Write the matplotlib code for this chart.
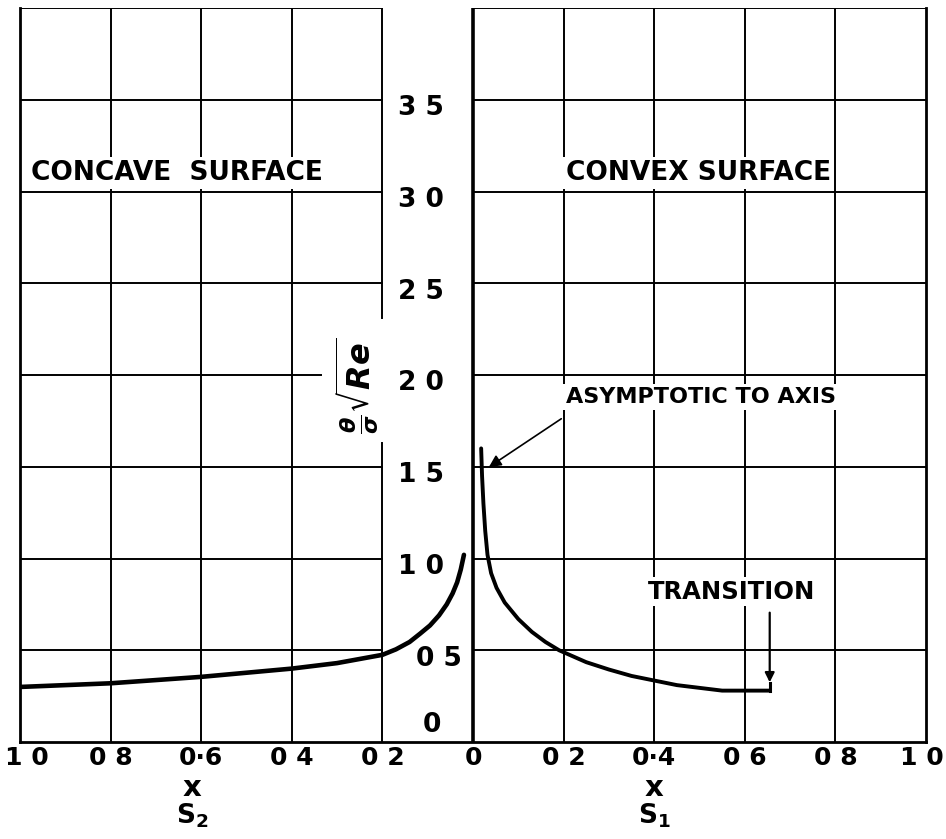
import numpy as np
import matplotlib
matplotlib.use('Agg')
import matplotlib.pyplot as plt
import matplotlib.transforms as mtransforms

# data
convex_x = [0.018, 0.020, 0.023, 0.027, 0.032, 0.040, 0.052, 0.070, 0.10, 0.13, 0.16, 0.19,
            0.25, 0.30, 0.35, 0.40, 0.45, 0.50, 0.55, 0.655]
convex_y = [1.60, 1.45, 1.30, 1.15, 1.02, 0.92, 0.84, 0.76, 0.67, 0.60, 0.545, 0.50,
            0.435, 0.395, 0.36, 0.335, 0.31, 0.295, 0.28, 0.28]
concave_x = [-1.0, -0.8, -0.6, -0.4, -0.3, -0.2, -0.17, -0.14, -0.117, -0.095, -0.075,
             -0.058, -0.045, -0.035, -0.027, -0.02]
concave_y = [0.30, 0.32, 0.355, 0.40, 0.43, 0.475, 0.505, 0.545, 0.59, 0.635, 0.69,
             0.75, 0.81, 0.87, 0.94, 1.02]

xticks = [-1.0, -0.8, -0.6, -0.4, -0.2, 0.0, 0.2, 0.4, 0.6, 0.8, 1.0]
xlabels = ['1 0', '0 8', '0·6', '0 4', '0 2', '0', '0 2', '0·4', '0 6', '0 8', '1 0']
yvals = [3.5, 3.0, 2.5, 2.0, 1.5, 1.0, 0.5, 0.0]
ylabels = ['3 5', '3 0', '2 5', '2 0', '1 5', '1 0', '0 5', '0']

plt.rcParams['font.family'] = 'DejaVu Sans'
plt.rcParams['font.weight'] = 'bold'

fig = plt.figure(figsize=(9.46, 8.39), dpi=100)
ax = fig.add_axes([20/946, 97/839, 906/946, 734/839])
ax.set_xlim(-1, 1)
ax.set_ylim(0, 4)
ax.spines['top'].set_visible(False)
for s in ['left', 'right', 'bottom']:
    ax.spines[s].set_linewidth(2)
ax.set_yticks([])
ax.set_xticks(xticks, xlabels, fontsize=18, fontweight='bold')
ax.tick_params(axis='x', length=0, pad=3)
# nudge the two end labels inward so they stay on the page
tl = ax.get_xticklabels()
tl[0].set_transform(tl[0].get_transform() + mtransforms.ScaledTranslation(7/100, 0, fig.dpi_scale_trans))
tl[-1].set_transform(tl[-1].get_transform() + mtransforms.ScaledTranslation(-4/100, 0, fig.dpi_scale_trans))

k = dict(color='black', lw=1.4, zorder=1)
# horizontal grid: right half full, left half stops at the label column
for y in [0.5, 1.0, 1.5, 2.5, 3.0, 3.5, 4.0]:
    ax.plot([0, 1], [y, y], **k)
    ax.plot([-1, -0.2], [y, y], **k)
ax.plot([0, 1], [2.0, 2.0], **k)
ax.plot([-1, -0.335], [2.0, 2.0], **k)
# vertical grid
for x in [-0.8, -0.6, -0.4, 0.2, 0.4, 0.6, 0.8]:
    ax.plot([x, x], [0, 4], **k)
ax.plot([-0.2, -0.2], [0, 1.63], **k)
ax.plot([-0.2, -0.2], [2.31, 4], **k)
ax.plot([0, 0], [0, 4], color='black', lw=2.6, zorder=2)

# curves
ax.plot(concave_x, concave_y, color='black', lw=3.3, zorder=4, solid_capstyle='round')
ax.plot(convex_x, convex_y, color='black', lw=2.8, zorder=4, solid_capstyle='round')
ax.plot([0.655, 0.655], [0.28, 0.32], color='black', lw=2.2, zorder=4)

# y values in the centre column
for v, lab in zip(yvals, ylabels):
    xo = -0.115
    yo = v - 0.045
    if lab == '0 5':
        xo = -0.075
    if lab == '0':
        xo, yo = -0.09, 0.09
    ax.text(xo, yo, lab, ha='center', va='center', fontsize=19, fontweight='bold')

ax.text(-0.255, 1.94, r'$\frac{\theta}{\sigma}\sqrt{Re}$', rotation=90,
        ha='center', va='center', fontsize=23)

box = dict(facecolor='white', edgecolor='none', pad=2)
ax.text(-0.975, 3.1, 'CONCAVE  SURFACE', ha='left', va='center', fontsize=19,
        fontweight='bold', bbox=box, zorder=3)
ax.text(0.205, 3.1, 'CONVEX SURFACE', ha='left', va='center', fontsize=19,
        fontweight='bold', bbox=box, zorder=3)
ax.text(0.205, 1.88, 'ASYMPTOTIC TO AXIS', ha='left', va='center', fontsize=16,
        fontweight='bold', bbox=box, zorder=3)
ax.text(0.385, 0.82, 'TRANSITION', ha='left', va='center', fontsize=17.5,
        fontweight='bold', bbox=box, zorder=3)

ax.annotate('', xy=(0.03, 1.49), xytext=(0.2, 1.77),
            arrowprops=dict(arrowstyle='-|>', color='black', lw=1.2, mutation_scale=18), zorder=5)
ax.annotate('', xy=(0.655, 0.31), xytext=(0.655, 0.72),
            arrowprops=dict(arrowstyle='-|>', color='black', lw=1.6, mutation_scale=14), zorder=5)

ax.text(-0.62, -0.25, 'x', ha='center', va='center', fontsize=21, fontweight='bold')
ax.text(-0.62, -0.40, 'S$_2$', ha='center', va='center', fontsize=19, fontweight='bold')
ax.text(0.40, -0.25, 'x', ha='center', va='center', fontsize=21, fontweight='bold')
ax.text(0.40, -0.40, 'S$_1$', ha='center', va='center', fontsize=19, fontweight='bold')

fig.savefig('out.png', dpi=100)
